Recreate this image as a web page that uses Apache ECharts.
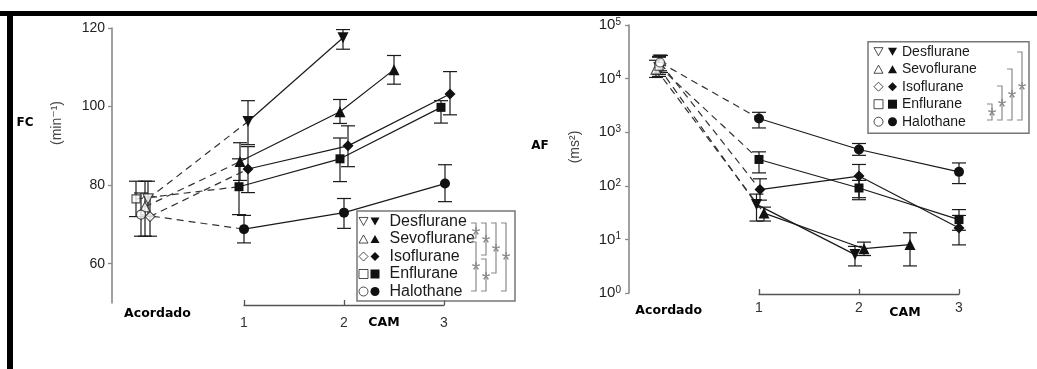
<!DOCTYPE html>
<html><head><meta charset="utf-8">
<script src="https://cdn.jsdelivr.net/npm/echarts@6/dist/echarts.min.js"></script>
<style>html,body{margin:0;padding:0;background:#fff}#c{width:1037px;height:369px}</style>
</head><body><div id="c"></div>
<script>
// ---------- DATA ----------
const drugs = ['Desflurane', 'Sevoflurane', 'Isoflurane', 'Enflurane', 'Halothane'];
const camTicks = [1, 2, 3];
const fcTicks = [60, 80, 100, 120];
const afTicks = [1, 10, 100, 1000, 10000, 100000];

// FC (min^-1): awake values (x = small offset around "Acordado")
const fcAwakeX = [0.03, 0.00, 0.05, -0.09, -0.04];
const fcAwake = [76.5, 74.5, 72, 76.5, 72.5];
const fcAwakeErr = [[72, 81], [67, 81], [67, 77], [72, 81], [67, 78]];
// FC at CAM levels
const fcCamX = [[1.03, 1.98], [0.95, 1.95, 2.49], [1.03, 2.03, 3.05], [0.94, 1.95, 2.96], [0.99, 1.99, 3.0]];
const fcCam = [[96.2, 117.5], [86, 98.7, 109.4], [84.1, 90, 103.2], [79.6, 86.7, 99.8], [68.8, 73, 80.4]];
const fcCamErr = [
  [[90.3, 101.5], [114.6, 119.6]],
  [[81.2, 90.8], [95.7, 101.8], [105.7, 113]],
  [[78.1, 89.8], [84.7, 95.1], [97.9, 108.9]],
  [[72.5, 86.7], [80.9, 92], [95.8, 101.5]],
  [[65.3, 72.3], [69, 76.6], [75.8, 85.2]]
];

// AF (ms^2)
const afAwakeX = [0.0, -0.03, 0.02, 0.0, 0.01];
const afAwake = [16000, 15000, 19000, 17000, 20000];
const afAwakeErr = [[11000, 26000], [10500, 22000], [13000, 27000], [12000, 25000], [14000, 27500]];
const afCamX = [[0.975, 1.96], [1.05, 2.05, 2.51], [1.01, 2.0, 3.0], [1.0, 2.0, 3.0], [1.0, 2.0, 3.0]];
const afCam = [[45, 5.2], [31, 6.7, 8], [85, 152, 16.3], [310, 91, 23.4], [1800, 475, 182]];
const afCamErr = [
  [[22, 70], [3.2, 7.4]],
  [[22, 40], [5, 8.9], [3.2, 13.3]],
  [[54, 135], [60, 250], [7.9, 28]],
  [[174, 430], [55, 126], [14.8, 36]],
  [[1200, 2350], [370, 615], [110, 267]]
];

// ---------- STYLE ----------
const shapes = ['triangle', 'triangle', 'diamond', 'rect', 'circle'];
const rots = [180, 0, 0, 0, 0];
const sizes = [11, 11, 11, 9, 10];
const legendIcons = ['path://M0,0L10,0L5,9Z', 'path://M5,0L10,9L0,9Z', 'diamond', 'rect', 'circle'];
const INK = '#1a1a1a';
const FONT = "'Liberation Sans', Arial, 'DejaVu Sans', sans-serif";
const BOLD = "'DejaVu Sans', Verdana, sans-serif";

function errRender(params, api) {
  const x = api.value(0), lo = api.value(1), hi = api.value(2);
  const p1 = api.coord([x, lo]), p2 = api.coord([x, hi]);
  const w = 7, st = {stroke: INK, lineWidth: 1.2};
  return {type: 'group', children: [
    {type: 'line', shape: {x1: p1[0], y1: p1[1], x2: p2[0], y2: p2[1]}, style: st},
    {type: 'line', shape: {x1: p1[0] - w, y1: p1[1], x2: p1[0] + w, y2: p1[1]}, style: st},
    {type: 'line', shape: {x1: p2[0] - w, y1: p2[1], x2: p2[0] + w, y2: p2[1]}, style: st}
  ]};
}

function buildSeries(xi, yi, awakeX, awake, awakeErr, camX, cam, camErr) {
  const s = [];
  drugs.forEach((d, i) => {
    const errData = [[awakeX[i], awakeErr[i][0], awakeErr[i][1]]]
      .concat(camX[i].map((x, j) => [x, camErr[i][j][0], camErr[i][j][1]]));
    s.push({type: 'custom', name: d + ' err', xAxisIndex: xi, yAxisIndex: yi, renderItem: errRender,
      data: errData, encode: {x: 0, y: [1, 2]}, z: 2, silent: true});
    s.push({type: 'line', name: d, xAxisIndex: xi, yAxisIndex: yi,
      data: [[awakeX[i], awake[i]], [camX[i][0], cam[i][0]]], symbol: 'none',
      lineStyle: {type: [7, 5], width: 1.2, color: '#333'}, z: 3, silent: true});
    s.push({type: 'line', name: d, xAxisIndex: xi, yAxisIndex: yi,
      data: camX[i].map((x, j) => [x, cam[i][j]]), symbol: shapes[i], symbolRotate: rots[i],
      symbolSize: sizes[i], itemStyle: {color: '#111'}, lineStyle: {width: 1.2, color: INK}, z: 4, silent: true});
    s.push({type: 'scatter', name: d + ' acordado', xAxisIndex: xi, yAxisIndex: yi,
      data: [[awakeX[i], awake[i]]], symbol: shapes[i], symbolRotate: rots[i], symbolSize: sizes[i] - 1,
      itemStyle: {color: '#fff', borderColor: '#222', borderWidth: 1.1}, z: 5, silent: true});
  });
  return s;
}

function legends(leftOpen, leftFilled, top, fontSize, textPad) {
  const common = {orient: 'vertical', top: top, padding: 0, itemWidth: 9, itemHeight: 9, itemGap: 0.5,
    selectedMode: false, textStyle: {fontFamily: FONT, fontSize: fontSize, lineHeight: 17, color: INK, padding: [0, 0, 0, textPad]}};
  return [
    Object.assign({}, common, {left: leftOpen, formatter: () => ' ',
      data: drugs.map((d, i) => ({name: d + ' acordado', icon: legendIcons[i],
        itemStyle: {color: '#fff', borderColor: '#222', borderWidth: 1}}))}),
    Object.assign({}, common, {left: leftFilled,
      data: drugs.map((d, i) => ({name: d, icon: legendIcons[i], itemStyle: {color: '#111', borderWidth: 0}}))})
  ];
}

function bracket(x, y1, y2, sy) {
  return [
    {type: 'polyline', shape: {points: [[x - 5, y1], [x, y1], [x, y2], [x - 5, y2]]},
      style: {stroke: '#8a8a8a', lineWidth: 1.2, fill: null}, z: 20},
    {type: 'text', x: x, y: sy + 6, style: {text: '*', fontSize: 22, fontFamily: FONT, fill: '#888',
      align: 'center', verticalAlign: 'middle'}, z: 21}
  ];
}

const chart = echarts.init(document.getElementById('c'), null, {renderer: 'canvas'});
const grayAxis = {onZero: false, lineStyle: {color: '#8a8a8a', width: 1.6}};

const option = {
  animation: false,
  backgroundColor: '#fff',
  grid: [
    {left: 112, top: 28, width: 403, height: 275},
    {left: 244, top: 304, width: 200, height: 1},
    {left: 629, top: 25, width: 380, height: 268},
    {left: 759, top: 293, width: 200, height: 1}
  ],
  xAxis: [
    {gridIndex: 0, type: 'value', min: -0.33, max: 3.7, show: false},
    {gridIndex: 1, type: 'value', min: 1, max: 3, interval: 1, position: 'bottom',
      axisLine: {onZero: false, lineStyle: {color: '#555', width: 1.3}},
      axisTick: {inside: true, length: 5, lineStyle: {color: '#555', width: 1.3}},
      axisLabel: {margin: 11, fontSize: 14, fontFamily: FONT, color: '#333', customValues: camTicks},
      splitLine: {show: false}},
    {gridIndex: 2, type: 'value', min: -0.3, max: 3.5, show: false},
    {gridIndex: 3, type: 'value', min: 1, max: 3, interval: 1, position: 'bottom',
      axisLine: {onZero: false, lineStyle: {color: '#555', width: 1.3}},
      axisTick: {inside: true, length: 5, lineStyle: {color: '#555', width: 1.3}},
      axisLabel: {margin: 7, fontSize: 14, fontFamily: FONT, color: '#333', customValues: camTicks},
      splitLine: {show: false}}
  ],
  yAxis: [
    {gridIndex: 0, type: 'value', min: 50, max: 120, axisLine: Object.assign({show: true}, grayAxis),
      axisTick: {show: true, length: 4, customValues: fcTicks, lineStyle: {color: '#8a8a8a', width: 1.3}},
      axisLabel: {customValues: fcTicks, margin: 7, fontSize: 14, fontFamily: FONT, color: '#222'},
      splitLine: {show: false}},
    {gridIndex: 1, type: 'value', show: false},
    {gridIndex: 2, type: 'log', logBase: 10, min: 1, max: 100000, axisLine: Object.assign({show: true}, grayAxis),
      axisTick: {show: true, length: 4, customValues: afTicks, lineStyle: {color: '#8a8a8a', width: 1.3}},
      axisLabel: {customValues: afTicks, margin: 8, color: '#222',
        formatter: v => '{b|10}{s|' + Math.round(Math.log10(v)) + '}',
        rich: {
          b: {fontSize: 15, fontFamily: FONT, color: '#222', lineHeight: 16},
          s: {fontSize: 10, fontFamily: FONT, color: '#222', lineHeight: 10, verticalAlign: 'top'}
        }},
      splitLine: {show: false}, minorTick: {show: false}},
    {gridIndex: 3, type: 'value', show: false}
  ],
  legend: legends(358.5, 370.5, 213, 16, 5).concat(legends(873.5, 888, 43.2, 14, 0)),
  series: buildSeries(0, 0, fcAwakeX, fcAwake, fcAwakeErr, fcCamX, fcCam, fcCamErr)
    .concat(buildSeries(2, 2, afAwakeX, afAwake, afAwakeErr, afCamX, afCam, afCamErr)),
  graphic: [
    {type: 'rect', shape: {x: 0, y: 11, width: 1037, height: 5}, style: {fill: '#000'}, z: 30},
    {type: 'rect', shape: {x: 7, y: 11, width: 6, height: 358}, style: {fill: '#000'}, z: 30},
    {type: 'rect', shape: {x: 357, y: 211, width: 158, height: 90}, style: {fill: null, stroke: '#777', lineWidth: 1.5}, z: 10},
    {type: 'rect', shape: {x: 868, y: 41.7, width: 161, height: 91.6}, style: {fill: null, stroke: '#777', lineWidth: 1.5}, z: 10},
    {type: 'text', x: 25, y: 123, style: {text: 'FC', fontFamily: BOLD, fontWeight: 'bold', fontSize: 12, fill: '#000', align: 'center', verticalAlign: 'middle'}},
    {type: 'text', x: 540, y: 146, style: {text: 'AF', fontFamily: BOLD, fontWeight: 'bold', fontSize: 12, fill: '#000', align: 'center', verticalAlign: 'middle'}},
    {type: 'text', x: 157.5, y: 314, style: {text: 'Acordado', fontFamily: BOLD, fontWeight: 'bold', fontSize: 12.5, fill: '#000', align: 'center', verticalAlign: 'middle'}},
    {type: 'text', x: 668.7, y: 311, style: {text: 'Acordado', fontFamily: BOLD, fontWeight: 'bold', fontSize: 12.5, fill: '#000', align: 'center', verticalAlign: 'middle'}},
    {type: 'text', x: 384, y: 323, style: {text: 'CAM', fontFamily: BOLD, fontWeight: 'bold', fontSize: 12.5, fill: '#000', align: 'center', verticalAlign: 'middle'}},
    {type: 'text', x: 905, y: 313, style: {text: 'CAM', fontFamily: BOLD, fontWeight: 'bold', fontSize: 12.5, fill: '#000', align: 'center', verticalAlign: 'middle'}},
    {type: 'text', x: 57, y: 123, rotation: Math.PI / 2, style: {text: '(min⁻¹)', fontFamily: FONT, fontSize: 14, fill: '#444', align: 'center', verticalAlign: 'middle'}},
    {type: 'text', x: 575, y: 147, rotation: Math.PI / 2, style: {text: '(ms²)', fontFamily: FONT, fontSize: 14, fill: '#444', align: 'center', verticalAlign: 'middle'}}
  ]
    .concat(bracket(476, 223, 238, 230))
    .concat(bracket(476, 242, 291, 265))
    .concat(bracket(486, 223, 255, 238))
    .concat(bracket(486, 259, 291, 275))
    .concat(bracket(496, 223, 273, 247))
    .concat(bracket(506, 223, 291, 255))
    .concat(bracket(992, 104, 120, 111))
    .concat(bracket(1002, 86, 120, 102))
    .concat(bracket(1012, 69, 120, 93))
    .concat(bracket(1022, 52, 120, 85))
};
chart.setOption(option);
</script>
</body></html>
